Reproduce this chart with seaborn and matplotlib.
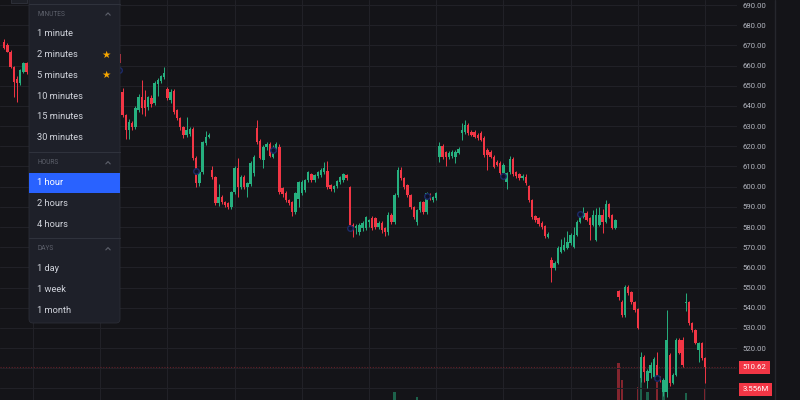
import numpy as np
import pandas as pd
import matplotlib
matplotlib.use("Agg")
import matplotlib.pyplot as plt
import seaborn as sns
from matplotlib.patches import FancyBboxPatch, Rectangle
from matplotlib.transforms import blended_transform_factory

# ---------------- data (hourly candles, bar index = time) ----------------
start_a = 1
open_a = [671.8, 670.2, 666.9, 659.4, 653.5, 651.2, 657.0, 661.1]
high_a = [673.0, 671.0, 667.5, 660.0, 655.0, 658.5, 662.0, 662.0]
low_a = [668.0, 666.5, 658.8, 644.6, 642.1, 650.5, 656.5, 656.0]
close_a = [668.6, 666.9, 659.4, 652.0, 651.2, 657.8, 661.1, 657.0]

start_b = 37
open_b = [
    665.8, 646.9, 635.5, 628.1, 631.5, 629.5, 638.0, 644.4, 643.0, 639.5,
    643.9, 641.5, 650.8, 652.3, 654.3, 648.2, 642.9, 647.4, 638.0, 634.0,
    629.5, 625.6, 626.0, 628.6, 614.2, 601.8, 607.3, 621.6, 624.6, 608.3,
    604.8, 591.9, 594.9, 592.4, 591.9, 589.9, 597.3, 609.2, 599.8, 604.8,
    599.8, 601.3, 606.8, 629.1, 622.6, 613.2, 619.7, 621.1, 614.7, 618.2,
    619.7, 599.3, 597.0, 593.4, 592.4, 587.4, 594.0, 597.0, 598.5, 603.3,
    606.3, 603.3, 605.3, 605.8, 607.3, 607.8, 600.8, 598.8, 600.3, 602.3,
    603.3, 605.8, 599.8, 581.0, 579.5, 577.5, 579.5, 579.5, 582.5, 584.5,
    584.5, 580.0, 582.0, 579.5, 577.5, 586.0, 582.5, 595.9, 608.3, 604.3,
    600.8, 595.9, 589.9, 582.5, 588.4, 592.4, 587.4, 596.3, 593.4, 594.4,
    614.7, 620.2, 617.0, 614.7, 615.2, 614.7, 616.7, 626.6, 627.1, 630.6,
    627.1, 627.1, 625.6, 626.6, 624.1, 618.2, 617.2, 614.7, 612.2, 611.7,
    606.8, 602.3, 607.3, 613.7, 607.3, 606.3, 604.3, 604.8, 600.3, 593.4,
    585.5, 584.5, 582.0, 580.5, 575.0, 563.7, 559.7, 562.2, 567.6, 568.6,
    569.6, 572.1, 570.1, 576.0, 582.5, 585.0, 587.0, 584.5, 581.0, 573.6,
    581.0, 586.0, 582.5, 591.4, 585.9, 579.5, 548.3, 542.8, 536.4, 550.3,
    547.8, 542.8, 539.4, 505.0, 515.6, 503.7, 507.8, 505.7, 511.7, 505.7,
    498.1, 498.1, 516.6, 502.7, 506.7, 524.0, 524.0, 542.5, 542.8, 532.4,
    528.9, 519.0, 522.5, 515.1]
high_b = [
    667.0, 648.9, 636.0, 633.5, 632.5, 640.0, 646.0, 653.0, 648.0, 645.0,
    645.5, 652.3, 654.0, 655.5, 659.5, 649.5, 648.5, 648.5, 638.5, 634.5,
    630.0, 634.5, 629.5, 629.5, 615.0, 608.0, 622.6, 627.7, 626.5, 610.0,
    605.5, 601.5, 596.0, 593.0, 592.5, 598.0, 610.0, 614.2, 606.0, 606.0,
    602.5, 612.5, 615.5, 633.0, 623.5, 620.5, 622.0, 622.0, 620.5, 622.0,
    621.0, 600.0, 598.0, 594.0, 593.0, 597.5, 603.0, 603.5, 604.0, 608.0,
    607.0, 606.5, 608.0, 609.0, 612.2, 612.7, 601.5, 601.0, 603.5, 605.5,
    607.0, 606.5, 600.5, 582.0, 581.5, 582.0, 583.0, 585.5, 584.0, 585.5,
    585.0, 583.0, 583.0, 580.0, 587.5, 587.0, 597.0, 609.5, 609.8, 605.0,
    601.5, 596.5, 590.5, 589.0, 593.0, 593.0, 597.5, 597.0, 595.5, 597.5,
    622.0, 621.0, 617.5, 617.5, 618.0, 618.0, 619.5, 631.5, 633.0, 631.5,
    628.0, 628.0, 626.5, 627.5, 625.0, 619.0, 618.0, 615.5, 613.0, 612.5,
    611.5, 607.5, 615.0, 614.5, 608.0, 607.0, 606.5, 606.5, 601.0, 594.0,
    586.0, 585.0, 583.0, 581.0, 577.5, 565.0, 563.0, 570.5, 574.0, 575.0,
    578.0, 577.0, 580.0, 583.5, 586.0, 590.0, 588.0, 585.0, 588.5, 589.5,
    590.0, 589.0, 593.5, 592.0, 586.5, 584.0, 549.0, 544.0, 551.5, 551.5,
    548.5, 543.5, 540.0, 518.0, 516.5, 509.5, 513.0, 515.5, 518.0, 506.0,
    505.0, 539.0, 517.5, 507.5, 525.0, 525.0, 525.5, 547.5, 543.5, 533.0,
    529.5, 523.0, 523.0, 515.5]
low_b = [
    660.0, 634.5, 623.8, 623.6, 628.0, 628.5, 637.0, 636.0, 635.0, 638.0,
    639.5, 640.5, 645.0, 651.5, 653.5, 643.0, 641.5, 636.0, 633.0, 628.0,
    624.0, 624.5, 625.0, 613.0, 600.0, 600.5, 606.5, 620.5, 624.0, 604.0,
    591.0, 590.5, 591.5, 590.0, 589.0, 589.0, 596.5, 594.9, 599.0, 599.0,
    594.9, 600.5, 605.5, 621.0, 613.5, 609.2, 618.0, 614.5, 614.0, 617.5,
    596.5, 595.0, 592.5, 591.0, 585.5, 586.5, 590.0, 596.0, 597.5, 602.5,
    602.5, 602.5, 604.5, 605.0, 606.5, 599.0, 598.0, 597.5, 599.5, 601.5,
    602.5, 603.5, 580.0, 575.0, 576.5, 576.0, 578.0, 578.5, 580.0, 578.5,
    579.0, 579.0, 577.0, 575.5, 576.0, 581.5, 581.5, 595.0, 603.5, 599.0,
    595.0, 589.0, 584.0, 581.0, 587.5, 586.5, 586.5, 593.5, 592.5, 593.5,
    612.0, 613.5, 610.0, 613.5, 614.2, 611.5, 616.0, 623.0, 626.0, 625.5,
    625.0, 624.0, 623.0, 622.5, 614.5, 608.5, 614.0, 609.0, 610.0, 606.0,
    606.0, 599.0, 606.5, 605.5, 604.5, 603.5, 603.5, 601.0, 592.5, 584.0,
    582.5, 580.5, 579.0, 574.5, 574.5, 552.8, 558.5, 561.5, 567.0, 568.0,
    569.0, 571.0, 569.5, 575.5, 582.0, 584.5, 583.0, 573.5, 580.5, 573.0,
    580.5, 577.0, 582.0, 584.5, 579.0, 579.0, 544.0, 535.5, 535.5, 546.5,
    542.0, 538.0, 529.5, 503.0, 503.0, 500.0, 505.0, 505.0, 505.0, 503.0,
    496.5, 496.0, 501.0, 502.0, 506.0, 517.0, 510.5, 538.5, 531.5, 528.0,
    522.0, 513.0, 514.0, 502.7]
close_b = [
    661.3, 635.5, 628.1, 632.0, 629.5, 639.0, 644.4, 639.0, 639.0, 644.4,
    640.9, 651.3, 652.8, 654.8, 656.3, 643.8, 646.9, 637.0, 634.0, 629.5,
    625.6, 628.1, 628.6, 614.2, 601.8, 607.3, 622.1, 624.6, 625.4, 604.8,
    591.9, 594.9, 592.4, 591.0, 589.9, 597.3, 609.2, 599.8, 604.8, 599.8,
    601.8, 611.7, 614.7, 622.1, 614.2, 619.7, 621.1, 615.2, 618.2, 621.1,
    597.3, 596.3, 593.4, 591.9, 587.4, 596.8, 602.3, 602.3, 603.3, 607.3,
    603.3, 605.8, 607.3, 608.3, 609.2, 599.8, 598.8, 600.3, 602.8, 604.8,
    606.3, 604.5, 581.0, 579.5, 580.5, 581.0, 582.0, 585.0, 583.5, 579.5,
    580.0, 582.0, 578.5, 577.5, 586.0, 582.5, 595.9, 608.3, 604.3, 599.8,
    595.9, 589.9, 584.9, 588.4, 592.4, 587.4, 596.8, 594.5, 594.9, 596.8,
    620.2, 614.7, 614.7, 616.7, 617.2, 617.2, 618.7, 628.1, 630.6, 626.6,
    625.6, 624.6, 624.1, 623.1, 615.7, 615.7, 614.7, 609.7, 610.7, 606.8,
    610.7, 606.8, 613.7, 606.3, 605.3, 604.3, 605.3, 601.8, 593.4, 584.9,
    583.5, 581.5, 580.0, 575.5, 576.5, 559.7, 562.2, 569.6, 570.1, 571.1,
    572.6, 576.0, 576.0, 582.5, 585.0, 587.0, 583.5, 581.0, 586.0, 586.0,
    586.0, 582.5, 591.4, 585.0, 579.5, 583.5, 545.3, 536.4, 550.3, 547.3,
    542.8, 538.9, 530.0, 515.6, 508.2, 508.7, 511.7, 514.6, 505.7, 504.2,
    504.2, 524.0, 502.7, 506.7, 524.0, 517.6, 511.6, 543.0, 532.4, 528.9,
    522.5, 522.5, 515.1, 510.62]

# volume (millions) for the bars whose volume columns reach into view
vol_bars = [123, 130, 193, 194, 199, 200, 202, 205, 207, 214, 220]
vol_millions = [3.37, 3.01, 5.43, 4.22, 3.72, 4.72, 3.37, 4.08, 3.51, 3.30, 3.556]

# session markers
marker_bars = [37, 61, 85, 109, 133, 157, 181, 205]
marker_prices = [657.8, 607.8, 618.2, 579.5, 595.4, 605.3, 586.4, 505.2]

# time grid positions and price ticks
grid_bars = [10, 31, 52, 73, 94, 115, 136, 157, 178, 199, 220]
price_ticks = list(range(500, 700, 10))
price_labels = ["" if v < 520 else f"{v:.2f}" for v in price_ticks]

menu_minutes = ["1 minute", "2 minutes", "5 minutes", "10 minutes", "15 minutes", "30 minutes"]
menu_hours = ["1 hour", "2 hours", "4 hours"]
menu_days = ["1 day", "1 week", "1 month"]
starred = ["2 minutes", "5 minutes"]
selected = "1 hour"

# ---------------- build table ----------------
df = pd.concat([
    pd.DataFrame({"bar": np.arange(start_a, start_a + len(open_a)), "open": open_a,
                  "high": high_a, "low": low_a, "close": close_a}),
    pd.DataFrame({"bar": np.arange(start_b, start_b + len(open_b)), "open": open_b,
                  "high": high_b, "low": low_b, "close": close_b}),
], ignore_index=True)
df["up"] = df["close"] >= df["open"]

BG = "#141418"
GRID = "#212127"
UP = "#26b07f"
DOWN = "#f23645"

sns.set_theme(style="dark")
plt.rcParams["font.family"] = ["Roboto", "DejaVu Sans"]

fig = plt.figure(figsize=(8, 4), dpi=100, facecolor=BG)
rect = [0, 0, 737 / 800, 1]
axv = fig.add_axes(rect, label="volume")
ax = fig.add_axes(rect, label="price")
axv.set_zorder(0)
ax.set_zorder(1)
ax.patch.set_visible(False)
axv.set_facecolor(BG)

# price axes
ax.set_xlim(-0.3125, 230)
ax.set_ylim(494.3, 692.48)
ax.set_xticks(grid_bars)
ax.set_yticks(price_ticks)
ax.set_yticklabels(price_labels)
ax.yaxis.tick_right()
ax.tick_params(axis="x", length=0, labelbottom=False)
ax.tick_params(axis="y", length=0, pad=3.8, labelsize=5.6, labelcolor="#b2b5be")
ax.grid(True, color=GRID, lw=0.8)
for s in ax.spines.values():
    s.set_visible(False)

# volume axes
axv.set_xlim(-0.3125, 230)
axv.set_ylim(2.8, 31.2)
axv.set_xticks([])
axv.set_yticks([])
axv.grid(False)
for s in axv.spines.values():
    s.set_visible(False)
vdf = df.set_index("bar").loc[vol_bars]
vcols = [UP if u else DOWN for u in vdf["up"]]
axv.bar(vol_bars, vol_millions, width=0.8, color=vcols, alpha=0.5, lw=0)

# candles
cols = np.where(df["up"], UP, DOWN)
ax.vlines(df["bar"], df["low"], df["high"], colors=cols, lw=0.7, zorder=3)
body_lo = np.minimum(df["open"], df["close"])
body_h = np.maximum((df["close"] - df["open"]).abs(), 0.5)
ax.bar(df["bar"], body_h, bottom=body_lo, width=0.8, color=cols, lw=0, zorder=4)

# session markers
sns.scatterplot(x=marker_bars, y=marker_prices, ax=ax, s=16, marker="o",
                facecolor="#0e1226", edgecolor="#1c2a68", linewidth=1.0,
                zorder=6, legend=False)

# last price line + labels
last = df["close"].iloc[-1]
ax.axhline(last, color=DOWN, alpha=0.35, lw=0.8, ls=(0, (1, 1.5)), zorder=2)
tr = blended_transform_factory(ax.transAxes, ax.transData)
ax.text(1.0 + 5.5 / 737, last, f"{last:.2f}", transform=tr, ha="left", va="center",
        fontsize=5.6, color="white", clip_on=False,
        bbox=dict(boxstyle="square,pad=0.45", fc=DOWN, ec="none"))
trv = blended_transform_factory(axv.transAxes, axv.transData)
axv.text(1.0 + 5.5 / 737, vol_millions[-1], f"{vol_millions[-1]:.3f}M", transform=trv,
         ha="left", va="center", fontsize=5.6, color="white", clip_on=False, zorder=10,
         bbox=dict(boxstyle="square,pad=0.45", fc=DOWN, ec="none"))

# ---------------- UI overlay (interval menu) ----------------
ui = fig.add_axes([0, 0, 1, 1], zorder=10)
ui.set_xlim(0, 800)
ui.set_ylim(400, 0)
ui.axis("off")
ui.patch.set_alpha(0)

ui.plot([775, 775], [0, 400], color="#26272d", lw=1)
ui.add_patch(Rectangle((11, -4), 16, 7, fc="#1e2027", ec="#30333c", lw=0.6))

ui.add_patch(FancyBboxPatch((29, -10), 91, 333,
                            boxstyle="round,pad=0,rounding_size=4",
                            fc="#1e2029", ec="#2b2e37", lw=0.6))
for ys in [4, 152.3, 238.3]:
    ui.plot([29, 120], [ys, ys], color="#2f323c", lw=0.8)
ui.add_patch(Rectangle((29, 173), 91, 20, fc="#2962ff", ec="none"))

ITEM = dict(fontsize=6.7, va="center", ha="left")
HEAD = dict(fontsize=4.8, va="center", ha="left", color="#5d606b")

def header(label, y):
    ui.text(37, y, label, **HEAD)
    ui.plot([105.8, 108, 110.2], [y + 1.2, y - 1.1, y + 1.2], color="#5d606b", lw=0.8)

def items(labels, y0):
    for k, lab in enumerate(labels):
        y = y0 + k * 20.7
        ui.text(37, y, lab, color="white" if lab == selected else "#d1d4dc", **ITEM)
        if lab in starred:
            ui.text(106, y, "\u2605", fontsize=7.5, color="#f7a600", ha="center",
                    va="center", family=["DejaVu Sans"])

header("MINUTES", 14)
items(menu_minutes, 34)
header("HOURS", 162.7)
items(menu_hours, 182.7)
header("DAYS", 248.7)
items(menu_days, 268.7)

fig.savefig("out.png", dpi=100, facecolor=BG)
